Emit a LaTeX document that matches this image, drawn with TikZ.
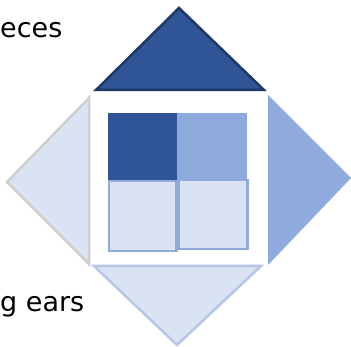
\documentclass[tikz,border=0pt]{standalone}
\usepackage{fontspec}
\setmainfont{DejaVu Sans}
\definecolor{dkblue}{HTML}{2F5597}
\definecolor{navy}{HTML}{1F3864}
\definecolor{midblue}{HTML}{8FAADC}
\definecolor{ltblue}{HTML}{DAE3F3}
\definecolor{paleblue}{HTML}{B4C7E7}
\definecolor{ltgray}{HTML}{D0CECE}
\tikzset{
  tri/.style={line join=miter},
  sq/.style={line width=2.5pt},
  lbl/.style={font=\fontsize{27}{30}\selectfont, inner sep=0pt, anchor=base west}
}
\begin{document}
\begin{tikzpicture}[x=1pt,y=-1pt]
\useasboundingbox[fill=white] (0,0) rectangle (351,347);
% triangles
\filldraw[tri, fill=dkblue, draw=navy, line width=2.5pt] (96,90) -- (179,8) -- (264,90) -- cycle;
\filldraw[tri, fill=ltblue, draw=ltgray, line width=2.5pt] (89,98) -- (7,182) -- (89,264) -- cycle;
\fill[tri, midblue] (268,95) -- (351,178) -- (268,265) -- cycle;
\filldraw[tri, fill=ltblue, draw=paleblue, line width=2.5pt] (94,266) -- (261,266) -- (177,345) -- cycle;
% squares
\fill[dkblue] (108,113) rectangle (177,180);
\fill[midblue] (177,113) rectangle (247,180);
\filldraw[sq, fill=ltblue, draw=midblue] (109,181) rectangle (176.5,251);
\filldraw[sq, fill=ltblue, draw=midblue] (178.5,180) rectangle (247.5,249);
% labels
\node[lbl] (t1) at (0,38) {eces};
\node[lbl] (t2) at (0,312) {g ears};
\end{tikzpicture}
\end{document}
